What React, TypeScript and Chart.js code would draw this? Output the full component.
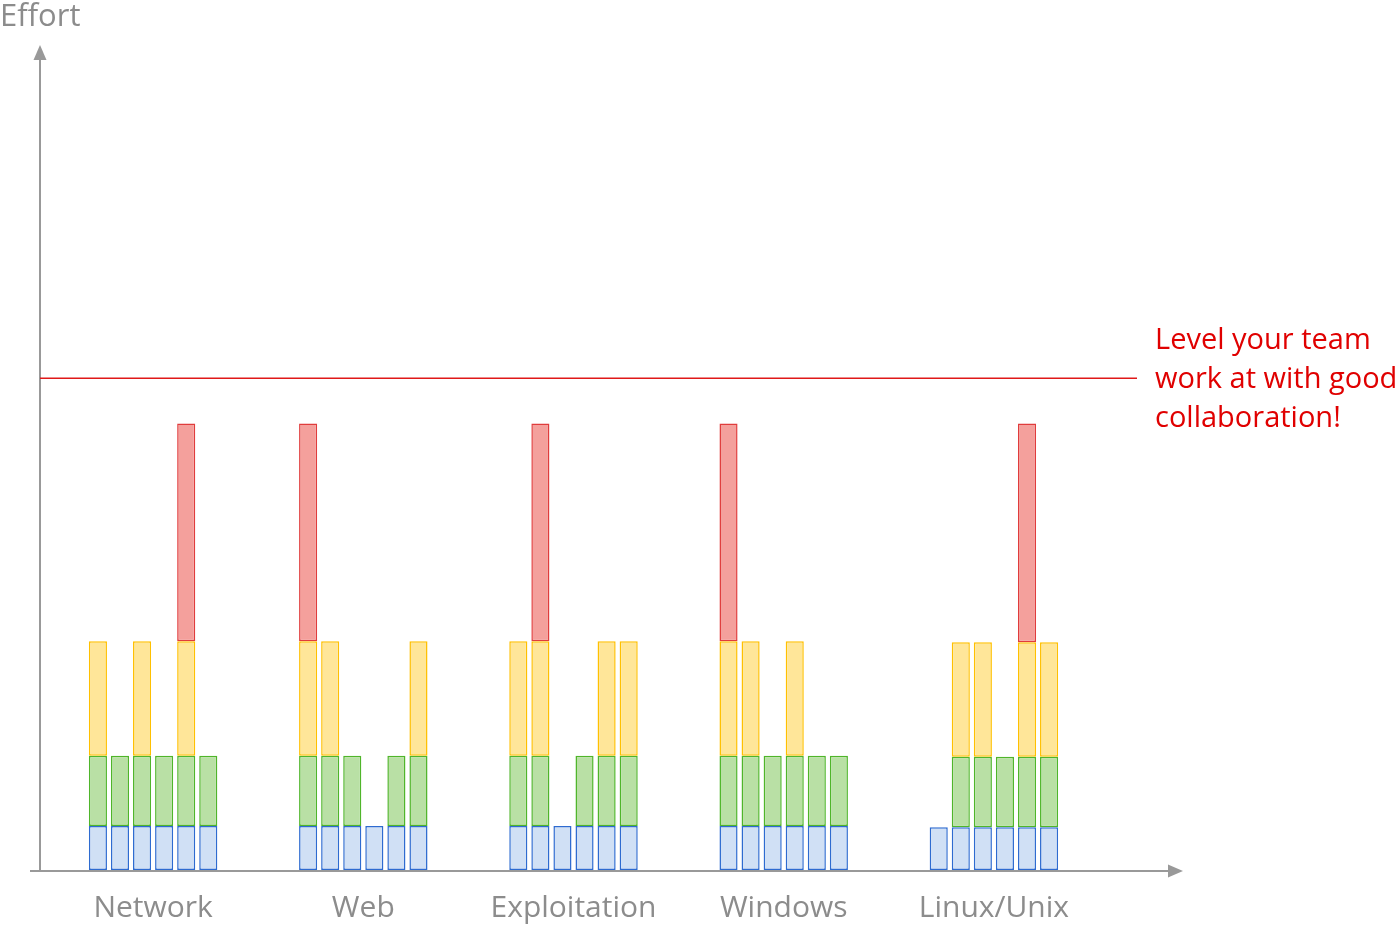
import React, { useEffect, useRef } from "react";
import { Chart, registerables } from "chart.js";

Chart.register(...registerables);

// ---- data ----
const categories = ["Network", "Web", "Exploitation", "Windows", "Linux/Unix"];
const segmentNames = ["Basics", "Intermediate", "Advanced", "Expert"];

// each row = one category, each column = one team member bar
const basicsEffort = [
  [4, 4, 4, 4, 4, 4],
  [4, 4, 4, 4, 4, 4],
  [4, 4, 4, 4, 4, 4],
  [4, 4, 4, 4, 4, 4],
  [3.9, 3.9, 3.9, 3.9, 3.9, 3.9],
];
const intermediateEffort = [
  [6.4, 6.4, 6.4, 6.4, 6.4, 6.4],
  [6.4, 6.4, 6.4, null, 6.4, 6.4],
  [6.4, 6.4, null, 6.4, 6.4, 6.4],
  [6.4, 6.4, 6.4, 6.4, 6.4, 6.4],
  [null, 6.4, 6.4, 6.4, 6.4, 6.4],
];
const advancedEffort = [
  [10.4, null, 10.4, null, 10.4, null],
  [10.4, 10.4, null, null, null, 10.4],
  [10.4, 10.4, null, null, 10.4, 10.4],
  [10.4, 10.4, null, 10.4, null, null],
  [null, 10.4, 10.4, null, 10.4, 10.4],
];
const expertEffort = [
  [null, null, null, null, 19.8, null],
  [19.8, null, null, null, null, null],
  [null, 19.8, null, null, null, null],
  [19.8, null, null, null, null, null],
  [null, null, null, null, 19.9, null],
];
const teamLevel = 44.7;
const yMax = 75;

const annotationLines = ["Level your team", "work at with good", "collaboration!"];
const yAxisTitle = "Effort";

// ---- styles ----
const fills = ["#d0e0f5", "#b9e0a5", "#ffe699", "#f4a09c"];
const borders = ["#2e6bd0", "#4fb52a", "#ffc000", "#e03c3c"];
const axisGray = "#999999";
const labelGray = "#8c8c8c";
const levelRed = "#e01818";

const seriesMatrices = [basicsEffort, intermediateEffort, advancedEffort, expertEffort];

export default function App() {
  const canvasRef = useRef<HTMLCanvasElement | null>(null);

  useEffect(() => {
    if (!canvasRef.current) return;
    const barsPerGroup = basicsEffort[0].length;
    const datasets: any[] = [];
    for (let k = 0; k < barsPerGroup; k++) {
      seriesMatrices.forEach((matrix, s) => {
        datasets.push({
          label: `${segmentNames[s]} ${k + 1}`,
          stack: `member${k}`,
          data: matrix.map((row) => row[k]),
          backgroundColor: fills[s],
          borderColor: borders[s],
          borderWidth: 1.5,
          borderSkipped: false,
          categoryPercentage: 0.63,
          barPercentage: 0.82,
        });
      });
    }

    const decor = {
      id: "decor",
      beforeDatasetsDraw(chart: any) {
        const ctx = chart.ctx;
        const y0 = chart.scales.y.getPixelForValue(0);
        ctx.save();
        ctx.strokeStyle = axisGray;
        ctx.fillStyle = axisGray;
        ctx.lineWidth = 2;
        // y axis
        ctx.beginPath();
        ctx.moveTo(40, y0 + 2);
        ctx.lineTo(40, 58);
        ctx.stroke();
        ctx.beginPath();
        ctx.moveTo(40, 45);
        ctx.lineTo(33.5, 60);
        ctx.lineTo(46.5, 60);
        ctx.closePath();
        ctx.fill();
        // x axis
        ctx.beginPath();
        ctx.moveTo(30, y0 + 1);
        ctx.lineTo(1170, y0 + 1);
        ctx.stroke();
        ctx.beginPath();
        ctx.moveTo(1183, y0 + 1);
        ctx.lineTo(1168, y0 - 5.5);
        ctx.lineTo(1168, y0 + 7.5);
        ctx.closePath();
        ctx.fill();
        ctx.restore();
      },
      afterDraw(chart: any) {
        const ctx = chart.ctx;
        const yl = chart.scales.y.getPixelForValue(teamLevel);
        ctx.save();
        ctx.strokeStyle = levelRed;
        ctx.lineWidth = 1.5;
        ctx.beginPath();
        ctx.moveTo(40, yl);
        ctx.lineTo(1137, yl);
        ctx.stroke();

        ctx.fillStyle = "#e00000";
        ctx.font = "29px 'Open Sans'";
        ctx.textBaseline = "alphabetic";
        ctx.textAlign = "left";
        annotationLines.forEach((line, i) => {
          ctx.fillText(line, 1155, yl - 29 + i * 39);
        });

        ctx.fillStyle = labelGray;
        ctx.font = "31px 'Open Sans'";
        ctx.fillText(yAxisTitle, 0, 26);
        ctx.restore();
      },
    };

    const chart = new Chart(canvasRef.current, {
      type: "bar",
      data: { labels: categories, datasets },
      options: {
        animation: false,
        responsive: true,
        maintainAspectRatio: false,
        layout: { padding: { left: 48, right: 301, top: 45, bottom: 0 } },
        plugins: { legend: { display: false }, tooltip: { enabled: false } },
        scales: {
          x: {
            stacked: true,
            grid: { display: false, drawTicks: true, tickLength: 20 },
            border: { display: false },
            ticks: {
              padding: 0,
              color: labelGray,
              font: { family: "'Open Sans'", size: 30, lineHeight: 1.23 },
            },
          },
          y: {
            stacked: true,
            display: false,
            min: 0,
            max: yMax,
          },
        },
      },
      plugins: [decor],
    });
    return () => chart.destroy();
  }, []);

  return (
    <div style={{ position: "fixed", left: 0, top: 0, width: 1400, height: 927, background: "#fff" }}>
      <canvas ref={canvasRef} />
    </div>
  );
}
